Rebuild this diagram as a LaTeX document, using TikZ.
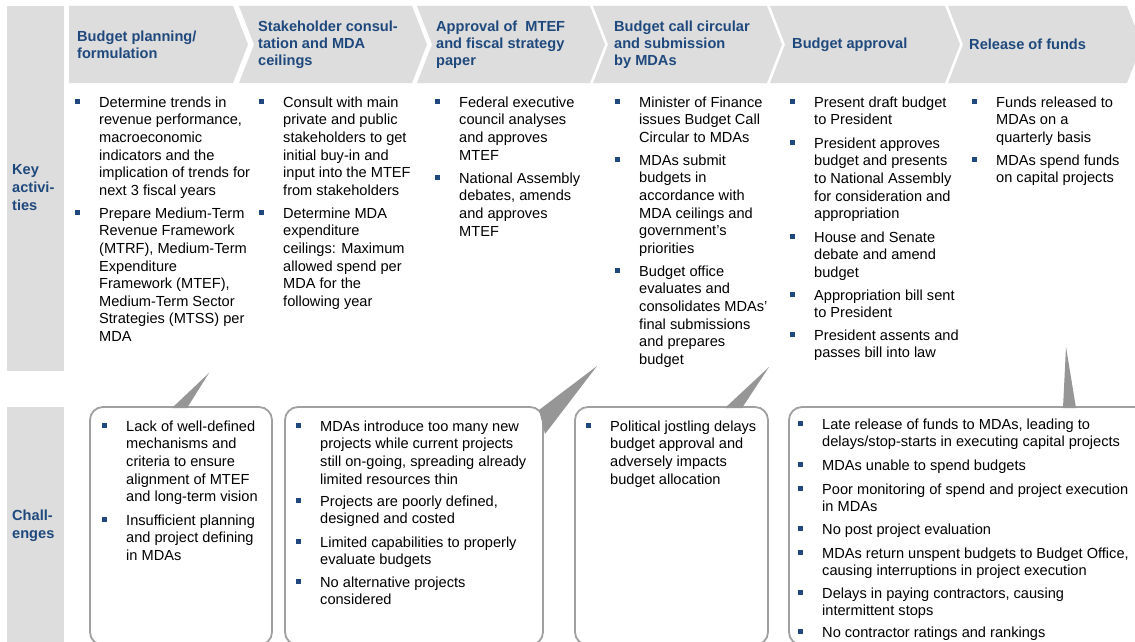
\documentclass[tikz,border=0pt]{standalone}
\usepackage{fontspec}
\setmainfont{Liberation Sans}
\definecolor{hdrgray}{RGB}{221,221,221}
\definecolor{navy}{RGB}{31,73,125}
\definecolor{boxline}{RGB}{160,160,160}
\definecolor{wedgegray}{RGB}{150,150,150}
\newcommand\bitem[4]{%
  \fill[navy] (#2-24,#3-3) rectangle (#2-19,#3+2);
  \node[txt] (#1) at (#2,#3-7.5) {\rule{0pt}{12.5pt}#4};}
\begin{document}
\begin{tikzpicture}[x=1pt,y=-1pt,
  txt/.style={font=\fontsize{14.6}{17.6}\selectfont, align=left, inner sep=0pt, anchor=north west, text=black},
  hdr/.style={font=\fontsize{14.6}{17}\selectfont\bfseries, text=navy, align=left, inner sep=0pt, anchor=west},
  lbl/.style={font=\fontsize{14.6}{18}\selectfont\bfseries, text=navy, align=left, inner sep=0pt, anchor=west},
  callout/.style={draw=boxline, line width=1.8pt, rounded corners=13pt, fill=white},
  ptr/.style={fill=wedgegray}]
\clip (0,0) rectangle (1135,642);
\fill[white] (0,0) rectangle (1135,642);
% left label column
\fill[hdrgray] (7,6) rectangle (64,371);
\fill[hdrgray] (7,407) rectangle (64,650);
\node[lbl] (keyact) at (12,188) {Key\\activi-\\ties};
\node[lbl] (chall) at (12,526) {Chall-\\enges};
% chevrons
\fill[hdrgray] (69,6) -- (233,6) -- (248,44.5) -- (233,83) -- (69,83) -- cycle;
\foreach \L/\R in {239/412, 417/590, 593/767, 770/945, 948/1127}
  \fill[hdrgray] (\L,6) -- (\R,6) -- (\R+15,44.5) -- (\R,83) -- (\L,83) -- (\L+15,44.5) -- cycle;
\node[hdr] (h1) at (77,44.5) {Budget planning/\\formulation};
\node[hdr] (h2) at (258,44.5) {Stakeholder consul-\\tation and MDA\\ceilings};
\node[hdr] (h3) at (436,44.5) {Approval of\ \ MTEF\\and fiscal strategy\\paper};
\node[hdr] (h4) at (614,44.5) {Budget call circular\\and submission\\by MDAs};
\node[hdr] (h5) at (792,44.5) {Budget approval};
\node[hdr] (h6) at (969,44.5) {Release of funds};
% key activities
\bitem{a11}{99}{102}{Determine trends in\\revenue performance,\\macroeconomic\\indicators and the\\implication of trends for\\next 3 fiscal years}
\bitem{a12}{99}{213}{Prepare Medium-Term\\Revenue Framework\\(MTRF), Medium-Term\\Expenditure\\Framework (MTEF),\\Medium-Term Sector\\Strategies (MTSS) per\\MDA}
\bitem{a21}{283}{102}{Consult with main\\private and public\\stakeholders to get\\initial buy-in and\\input into the MTEF\\from stakeholders}
\bitem{a22}{283}{213}{Determine MDA\\expenditure\\ceilings: Maximum\\allowed spend per\\MDA for the\\following year}
\bitem{a31}{459}{102}{Federal executive\\council analyses\\and approves\\MTEF}
\bitem{a32}{459}{178}{National Assembly\\debates, amends\\and approves\\MTEF}
\bitem{a41}{639}{102}{Minister of Finance\\issues Budget Call\\Circular to MDAs}
\bitem{a42}{639}{160}{MDAs submit\\budgets in\\accordance with\\MDA ceilings and\\government's\\priorities}
\bitem{a43}{639}{271}{Budget office\\evaluates and\\consolidates MDAs'\\final submissions\\and prepares\\budget}
\bitem{a51}{814}{102}{Present draft budget\\to President}
\bitem{a52}{814}{143}{President approves\\budget and presents\\to National Assembly\\for consideration and\\appropriation}
\bitem{a53}{814}{237}{House and Senate\\debate and amend\\budget}
\bitem{a54}{814}{295}{Appropriation bill sent\\to President}
\bitem{a55}{814}{335}{President assents and\\passes bill into law}
\bitem{a61}{996}{102}{Funds released to\\MDAs on a\\quarterly basis}
\bitem{a62}{996}{160}{MDAs spend funds\\on capital projects}
% callouts
\draw[callout] (90,407) rectangle (272,645);
\draw[callout] (285,407) rectangle (543,645);
\draw[callout] (575,407) rectangle (768,645);
\draw[callout] (789,407) rectangle (1160,645);
\fill[ptr] (172,408) -- (209,373) -- (187,408) -- cycle;
\fill[ptr] (539,410) -- (597,366) -- (545,434) -- cycle;
\fill[ptr] (725,408) -- (769,367) -- (742,408) -- cycle;
\fill[ptr] (1063,408) -- (1066,347) -- (1076,408) -- cycle;
% challenges
\bitem{c11}{126}{426}{Lack of well-defined\\mechanisms and\\criteria to ensure\\alignment of MTEF\\and long-term vision}
\bitem{c12}{126}{520}{Insufficient planning\\and project defining\\in MDAs}
\bitem{c21}{320}{426}{MDAs introduce too many new\\projects while current projects\\still on-going, spreading already\\limited resources thin}
\bitem{c22}{320}{501}{Projects are poorly defined,\\designed and costed}
\bitem{c23}{320}{542}{Limited capabilities to properly\\evaluate budgets}
\bitem{c24}{320}{582}{No alternative projects\\considered}
\bitem{c31}{610}{426}{Political jostling delays\\budget approval and\\adversely impacts\\budget allocation}
\bitem{c41}{822}{424}{Late release of funds to MDAs, leading to\\delays/stop-starts in executing capital projects}
\bitem{c42}{822}{465}{MDAs unable to spend budgets}
\bitem{c43}{822}{489}{Poor monitoring of spend and project execution\\in MDAs}
\bitem{c44}{822}{529}{No post project evaluation}
\bitem{c45}{822}{553}{MDAs return unspent budgets to Budget Office,\\causing interruptions in project execution}
\bitem{c46}{822}{593}{Delays in paying contractors, causing\\intermittent stops}
\bitem{c47}{822}{632}{No contractor ratings and rankings}
\end{tikzpicture}
\end{document}
